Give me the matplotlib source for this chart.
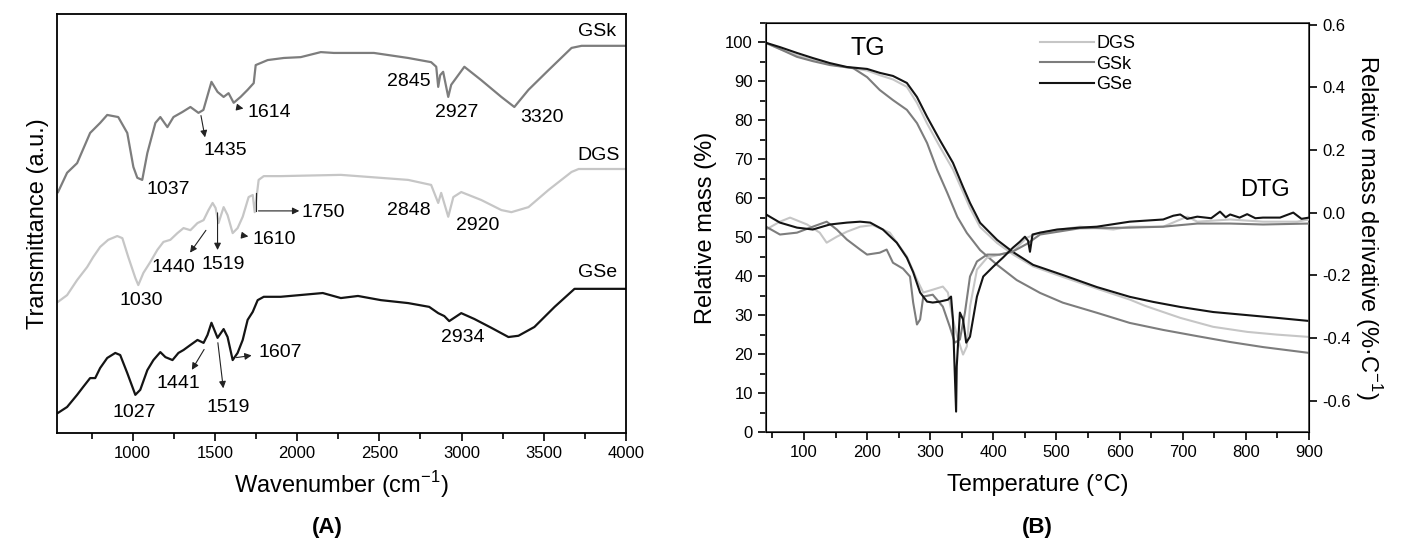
import matplotlib
matplotlib.use("Agg")
import matplotlib.pyplot as plt
from matplotlib.ticker import MultipleLocator

plt.rcParams['font.family'] = ['Liberation Sans', 'DejaVu Sans']
plt.rcParams['axes.unicode_minus'] = False

########
# DATA #
########

# (A) FTIR spectra, wavenumber (cm-1) vs transmittance (a.u., offset curves)
gsk_wn = [546, 601, 662, 741, 802, 845, 912, 967, 1004, 1028, 1058, 1089, 1138, 1168, 1211,
          1248, 1302, 1351, 1400, 1430, 1479, 1516, 1553, 1583, 1614, 1656, 1699, 1736, 1748,
          1821, 1919, 2022, 2144, 2223, 2467, 2675, 2815, 2846, 2858, 2870, 2888, 2919, 2937,
          3017, 3120, 3242, 3321, 3407, 3529, 3669, 3730, 4000]
gsk_t = [57.5, 62.1, 64.4, 71.6, 74.0, 75.9, 75.4, 71.6, 63.5, 60.9, 60.4, 66.8, 74.0, 75.4, 73.0,
         75.4, 76.6, 77.8, 76.4, 77.1, 83.8, 81.4, 80.2, 81.1, 78.8, 80.2, 81.9, 83.5, 87.8,
         89.0, 89.5, 89.7, 90.9, 90.7, 90.7, 89.5, 88.5, 87.4, 82.6, 85.4, 86.2, 80.2, 83.1,
         87.4, 84.2, 80.2, 77.8, 81.9, 86.6, 91.9, 92.4, 92.4]

dgs_wn = [546, 601, 662, 723, 760, 802, 851, 906, 937, 973, 1016, 1034, 1065, 1107, 1150,
          1187, 1229, 1272, 1309, 1351, 1394, 1431, 1461, 1486, 1504, 1522, 1553, 1577, 1608,
          1638, 1669, 1705, 1730, 1742, 1766, 1797, 1900, 2266, 2675, 2815, 2858, 2876, 2919,
          2950, 2998, 3120, 3242, 3303, 3407, 3529, 3669, 3712, 4000]
dgs_t = [31.3, 32.9, 36.5, 39.6, 42.0, 44.4, 46.1, 47.0, 46.5, 42.0, 37.0, 35.3, 38.2, 40.8, 43.7,
         45.6, 46.1, 47.7, 48.9, 48.4, 50.1, 50.8, 53.2, 54.9, 53.7, 50.1, 53.9, 52.0, 47.7,
         48.9, 51.6, 56.3, 56.8, 52.7, 60.4, 61.3, 61.3, 61.6, 60.4, 59.2, 54.9, 57.3, 51.6,
         56.3, 57.5, 55.6, 53.2, 52.7, 53.9, 58.0, 62.3, 63.0, 63.0]

gse_wn = [546, 601, 662, 699, 741, 772, 802, 845, 894, 924, 967, 1016, 1046, 1089, 1126,
          1168, 1199, 1242, 1278, 1309, 1351, 1394, 1431, 1455, 1479, 1516, 1553, 1577, 1608,
          1638, 1669, 1699, 1730, 1760, 1797, 1900, 2156, 2266, 2370, 2510, 2675, 2803, 2858,
          2895, 2925, 2998, 3078, 3181, 3285, 3346, 3443, 3566, 3687, 4000]
gse_t = [4.8, 6.2, 9.1, 11.0, 13.1, 13.1, 15.5, 17.9, 19.1, 18.6, 14.3, 9.1, 10.3, 15.0, 17.4,
         19.3, 18.1, 17.4, 19.1, 19.8, 21.0, 22.2, 21.5, 23.4, 26.3, 22.7, 24.8, 22.9, 17.4,
         19.1, 22.2, 27.0, 28.9, 31.7, 32.5, 32.5, 33.4, 32.2, 32.7, 31.7, 31.0, 30.1, 28.6,
         27.9, 26.7, 28.6, 27.2, 25.1, 22.9, 23.2, 25.3, 30.1, 34.4, 34.4]

# peak labels: text, text position, arrow (tail, head) or None
ftir_labels = [
    ("1037", (1217, 58.2), None),
    ("1435", (1565, 67.5), ((1412, 76.4), (1443, 69.9))),
    ("1614", (1830, 76.6), ((1626, 77.8), (1690, 77.3))),
    ("1750", (2160, 52.5), None),
    ("1610", (1860, 46.1), ((1644, 47.3), (1720, 46.8))),
    ("2845", (2678, 83.8), None),
    ("2927", (2968, 76.6), None),
    ("3320", (3486, 75.2), None),
    ("2848", (2678, 53.0), None),
    ("2920", (3096, 49.4), None),
    ("1030", (1052, 31.7), None),
    ("1440", (1248, 39.6), ((1455, 48.9), (1339, 42.5))),
    ("1519", (1553, 40.1), ((1516, 53.2), (1516, 43.0))),
    ("1027", (1010, 4.8), None),
    ("1441", (1278, 11.9), ((1443, 20.5), (1351, 14.5))),
    ("1519", (1583, 6.0), ((1516, 22.2), (1553, 10.0))),
    ("1607", (1900, 19.3), ((1614, 17.9), (1740, 18.6))),
    ("2934", (3010, 22.9), None),
]

# (B) thermogravimetry, temperature (C) vs relative mass (%)
gse_tg_temp = [40, 62, 89, 114, 141, 168, 200, 220, 241, 263, 279, 295, 315, 336, 352, 363,
               379, 406, 431, 463, 510, 564, 616, 653, 696, 748, 802, 849, 900]
gse_tg_mass = [99.9, 98.8, 97.3, 96.0, 94.7, 93.7, 93.2, 92.2, 91.4, 89.6, 86.0, 80.9, 75.0,
               69.1, 62.9, 58.8, 53.7, 49.3, 46.2, 42.9, 40.3, 37.2, 34.7, 33.4, 32.1, 30.8,
               30.0, 29.3, 28.5]

dgs_tg_temp = [40, 62, 89, 114, 141, 168, 200, 220, 241, 263, 279, 295, 315, 336, 352, 363,
               379, 406, 431, 463, 510, 564, 616, 640, 696, 748, 802, 849, 900]
dgs_tg_mass = [99.8, 98.3, 96.7, 95.5, 94.4, 93.6, 92.8, 91.6, 90.5, 88.6, 84.5, 79.2, 73.3,
               67.4, 61.6, 57.5, 52.6, 48.5, 45.6, 42.5, 39.8, 36.8, 34.0, 32.4, 29.3, 27.0,
               25.7, 25.0, 24.4]

gsk_tg_temp = [40, 62, 89, 114, 141, 178, 200, 220, 241, 263, 279, 295, 311, 327, 343, 358,
               379, 406, 437, 474, 510, 564, 616, 669, 723, 775, 827, 900]
gsk_tg_mass = [99.9, 98.3, 96.3, 95.2, 94.2, 93.4, 91.1, 87.8, 85.2, 82.7, 79.3, 74.2, 67.3,
               61.4, 55.2, 51.1, 46.7, 42.9, 39.0, 35.7, 33.2, 30.6, 28.0, 26.2, 24.6, 23.1,
               21.8, 20.3]

# (B) derivative, temperature (C) vs relative mass derivative (%/C)
gse_dtg_temp = [40, 62, 89, 114, 141, 168, 189, 205, 225, 247, 263, 273, 284, 295, 304, 315,
                328, 333, 336, 341, 342, 347, 352, 357, 363, 374, 384, 400, 415, 431, 442,
                450, 455, 458, 462, 474, 501, 537, 564, 616, 669, 685, 696, 707, 723, 745,
                759, 768, 775, 790, 802, 815, 827, 854, 875, 888, 900]
gse_dtg_val = [-0.006, -0.032, -0.048, -0.054, -0.038, -0.032, -0.029, -0.032, -0.054, -0.096,
               -0.144, -0.190, -0.255, -0.284, -0.287, -0.284, -0.278, -0.268, -0.341, -0.635,
               -0.491, -0.319, -0.341, -0.415, -0.396, -0.268, -0.204, -0.172, -0.144, -0.112,
               -0.093, -0.077, -0.090, -0.125, -0.070, -0.064, -0.054, -0.048, -0.045, -0.029,
               -0.022, -0.010, -0.006, -0.020, -0.013, -0.018, 0.003, -0.015, -0.006, -0.016,
               -0.005, -0.018, -0.016, -0.016, 0.0, -0.020, -0.016]

dgs_dtg_temp = [40, 62, 78, 105, 125, 136, 152, 168, 189, 209, 236, 263, 279, 289, 304, 320,
                328, 336, 344, 352, 358, 363, 374, 390, 410, 431, 453, 474, 537, 590, 616,
                669, 707, 723, 775, 827, 881, 900]
dgs_dtg_val = [-0.054, -0.029, -0.016, -0.038, -0.064, -0.096, -0.077, -0.061, -0.045, -0.040,
               -0.064, -0.140, -0.214, -0.255, -0.246, -0.236, -0.255, -0.341, -0.405, -0.453,
               -0.427, -0.300, -0.182, -0.144, -0.134, -0.124, -0.080, -0.064, -0.045, -0.054,
               -0.045, -0.045, -0.013, -0.029, -0.022, -0.029, -0.029, -0.022]

gsk_dtg_temp = [40, 62, 89, 114, 136, 152, 168, 189, 200, 220, 231, 241, 257, 268, 273, 279,
                284, 289, 304, 320, 331, 339, 347, 355, 363, 374, 390, 410, 431, 453, 474,
                537, 616, 669, 723, 775, 827, 900]
gsk_dtg_val = [-0.045, -0.070, -0.064, -0.045, -0.029, -0.054, -0.086, -0.118, -0.134, -0.128,
               -0.118, -0.160, -0.179, -0.204, -0.287, -0.357, -0.341, -0.268, -0.262, -0.300,
               -0.364, -0.415, -0.405, -0.319, -0.204, -0.156, -0.134, -0.134, -0.124, -0.100,
               -0.070, -0.050, -0.048, -0.045, -0.035, -0.035, -0.038, -0.035]

c_gsk = '#7d7d7d'
c_dgs = '#c6c6c6'
c_gse = '#141414'

############
# PLOTTING #
############

fig = plt.figure(figsize=(14.02, 5.48), dpi=100)

# (A) FTIR
ax = fig.add_axes([0.0407, 0.2099, 0.4058, 0.7646])
ax.plot(gsk_wn, gsk_t, color=c_gsk, lw=1.6)
ax.plot(dgs_wn, dgs_t, color=c_dgs, lw=1.6)
ax.plot(gse_wn, gse_t, color=c_gse, lw=1.6)
ax.set_xlim(540, 4000)
ax.set_ylim(0, 100)
ax.set_yticks([])
ax.xaxis.set_major_locator(MultipleLocator(500))
ax.xaxis.set_minor_locator(MultipleLocator(250))
ax.tick_params(axis='x', which='major', direction='out', length=6, width=1.2, labelsize=12)
ax.tick_params(axis='x', which='minor', direction='out', length=4, width=1.2)
ax.set_xticks([1000, 1500, 2000, 2500, 3000, 3500, 4000])
for s in ax.spines.values():
    s.set_linewidth(1.3)
ax.set_xlabel('Wavenumber (cm$^{\\mathregular{-1}}$)', fontsize=17, labelpad=6)
ax.set_ylabel('Transmittance (a.u.)', fontsize=17, labelpad=6)

for txt, pos, arrow in ftir_labels:
    ax.text(pos[0], pos[1], txt, fontsize=14, ha='center', va='center')
    if arrow is not None:
        ax.annotate('', xy=arrow[1], xytext=arrow[0],
                    arrowprops=dict(arrowstyle='-|>', lw=0.8, color='#222222', mutation_scale=10))
# elbow arrow for 1750
ax.plot([1748, 1748], [57.3, 53.0], color='#222222', lw=0.8)
ax.annotate('', xy=(2030, 53.0), xytext=(1748, 53.0),
            arrowprops=dict(arrowstyle='-|>', lw=0.8, color='#222222', mutation_scale=10))

ax.text(3940, 95.7, 'GSk', fontsize=14, ha='right', va='center')
ax.text(3965, 66.3, 'DGS', fontsize=14, ha='right', va='center')
ax.text(3945, 38.2, 'GSe', fontsize=14, ha='right', va='center')

# (B) TG / DTG
bx = fig.add_axes([0.5464, 0.2117, 0.3873, 0.7464])
bx.plot(dgs_tg_temp, dgs_tg_mass, color=c_dgs, lw=1.5, label='DGS')
bx.plot(gsk_tg_temp, gsk_tg_mass, color=c_gsk, lw=1.5, label='GSk')
bx.plot(gse_tg_temp, gse_tg_mass, color=c_gse, lw=1.5, label='GSe')
bx.set_xlim(40, 900)
bx.set_ylim(0, 105)
bx.xaxis.set_major_locator(MultipleLocator(100))
bx.xaxis.set_minor_locator(MultipleLocator(50))
bx.yaxis.set_major_locator(MultipleLocator(10))
bx.yaxis.set_minor_locator(MultipleLocator(5))
bx.tick_params(which='major', direction='out', length=6, width=1.2, labelsize=12)
bx.tick_params(which='minor', direction='out', length=4, width=1.2)
for s in bx.spines.values():
    s.set_linewidth(1.3)
    s.set_color('#444444')
bx.set_xlabel('Temperature (°C)', fontsize=17, labelpad=10)
bx.set_ylabel('Relative mass (%)', fontsize=17, labelpad=6)
bx.text(201, 98.6, 'TG', fontsize=18, ha='center', va='center')
bx.text(830, 62.0, 'DTG', fontsize=17, ha='center', va='center')

bx2 = bx.twinx()
bx2.plot(dgs_dtg_temp, dgs_dtg_val, color=c_dgs, lw=1.5)
bx2.plot(gsk_dtg_temp, gsk_dtg_val, color=c_gsk, lw=1.5)
bx2.plot(gse_dtg_temp, gse_dtg_val, color=c_gse, lw=1.5)
bx2.set_ylim(-0.7, 0.605)
bx2.yaxis.set_major_locator(MultipleLocator(0.2))
bx2.yaxis.set_minor_locator(MultipleLocator(0.1))
bx2.tick_params(which='major', direction='out', length=6, width=1.2, labelsize=12)
bx2.tick_params(which='minor', direction='out', length=0)
bx2.set_ylabel('Relative mass derivative (%·C$^{\\mathregular{-1}}$)', fontsize=17,
               rotation=270, labelpad=24)

bx.legend(loc='upper left', bbox_to_anchor=(0.475, 1.01), frameon=False, fontsize=13,
          handlelength=3.0, handletextpad=0.1, labelspacing=0.2)

fig.text(0.2333, 0.038, '(A)', fontsize=16, fontweight='bold', ha='center', va='center')
fig.text(0.7397, 0.038, '(B)', fontsize=16, fontweight='bold', ha='center', va='center')

fig.savefig('out.png', dpi=100)
